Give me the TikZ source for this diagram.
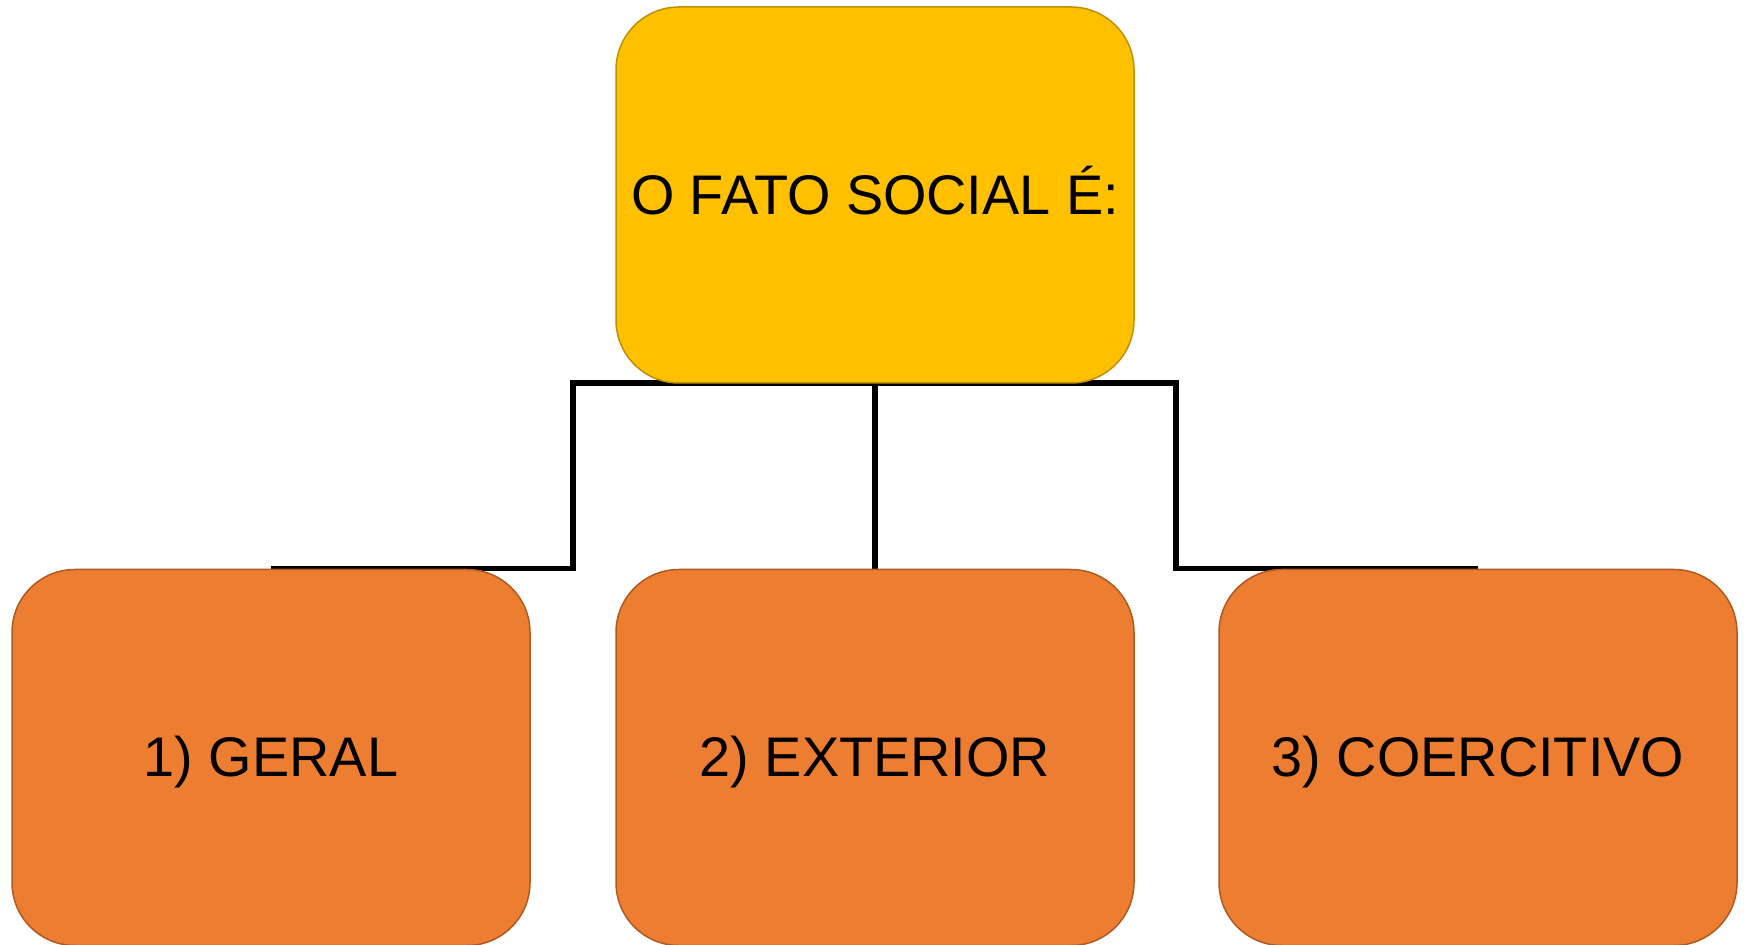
\documentclass[tikz,border=0pt]{standalone}
\usepackage{fontspec}
\setmainfont{Liberation Sans}
\usetikzlibrary{backgrounds}
\definecolor{fatofill}{HTML}{FFC000}
\definecolor{fatoline}{HTML}{BF9000}
\definecolor{itemfill}{HTML}{ED7D31}
\definecolor{itemline}{HTML}{AE5A21}
\tikzset{
  caixa/.style={rectangle, rounded corners=31.5pt, line width=0.75pt,
    minimum width=259pt, minimum height=188pt, inner sep=0pt,
    text height=19.2pt, text depth=0pt,
    font=\fontsize{27.9}{30}\selectfont},
  ligacao/.style={line width=2.6pt, black},
}
\begin{document}
\begin{tikzpicture}[x=0.5pt, y=-0.5pt]
\useasboundingbox (0,0) rectangle (1746,945);
\node[caixa, fill=fatofill, draw=fatoline] (fato) at (875,195) {O FATO SOCIAL É:};
\node[caixa, fill=itemfill, draw=itemline] (geral) at (271,757.5) {1) GERAL};
\node[caixa, fill=itemfill, draw=itemline] (exterior) at (875,757.5) {2) EXTERIOR};
\node[caixa, fill=itemfill, draw=itemline] (coercitivo) at (1478,757.5) {3) COERCITIVO};
\coordinate (garfoE) at (573,383);
\coordinate (garfoD) at (1176,383);
\coordinate (garfoM) at (exterior.north |- fato.south);
\begin{scope}[on background layer]
\draw[ligacao] (geral.north) -| (garfoE) -- (garfoD) |- (coercitivo.north);
\draw[ligacao] (garfoM) -- (exterior.north);
\end{scope}
\end{tikzpicture}
\end{document}
